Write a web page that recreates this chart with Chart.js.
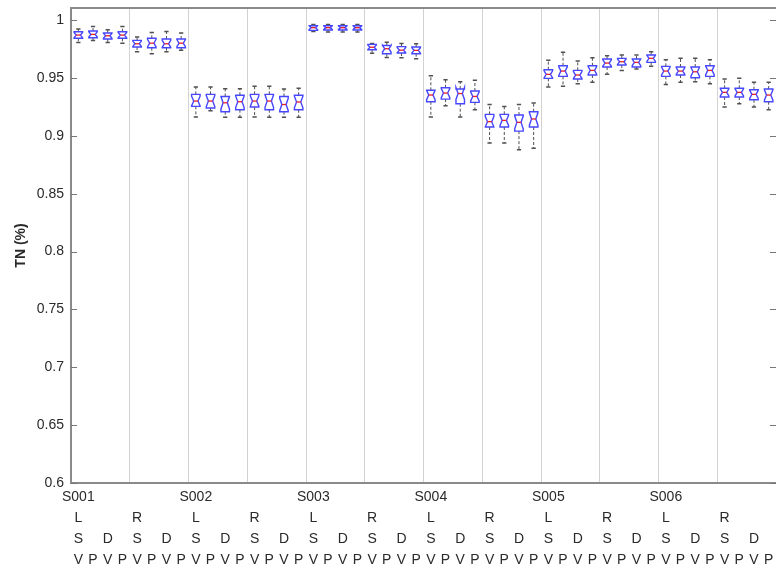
<!DOCTYPE html>
<html>
<head>
<meta charset="utf-8">
<title>TN (%) boxplot</title>
<script src="https://cdn.jsdelivr.net/npm/chart.js@4.4.1/dist/chart.umd.min.js"></script>
<style>
  html, body { margin: 0; padding: 0; background: #fff; }
  #wrap { width: 776px; height: 572px; }
</style>
</head>
<body>
<div id="wrap"><canvas id="c" width="776" height="572"></canvas></div>
<script>
// Grouping factors (subject / side / set / mode)
const subjects = ['S001', 'S002', 'S003', 'S004', 'S005', 'S006'];
const sides = ['L', 'R'];
const sets = ['S', 'D'];
const modes = ['V', 'P'];

// Box statistics, one entry per box (subject x side x set x mode = 48 boxes)
const whiskerHigh = [
  0.9922, 0.9945, 0.9917, 0.9945,  0.9853, 0.9893, 0.9900, 0.9888,
  0.9421, 0.9421, 0.9407, 0.9407,  0.9427, 0.9427, 0.9404, 0.9410,
  0.9962, 0.9962, 0.9962, 0.9962,  0.9797, 0.9808, 0.9798, 0.9795,
  0.9519, 0.9484, 0.9467, 0.9479,  0.9271, 0.9254, 0.9271, 0.9283,
  0.9652, 0.9721, 0.9646, 0.9674,  0.9692, 0.9698, 0.9698, 0.9726,
  0.9657, 0.9669, 0.9669, 0.9657,  0.9490, 0.9496, 0.9462, 0.9462
];
const q3 = [
  0.9899, 0.9905, 0.9888, 0.9899,  0.9824, 0.9842, 0.9836, 0.9836,
  0.9358, 0.9358, 0.9340, 0.9350,  0.9358, 0.9358, 0.9340, 0.9350,
  0.9951, 0.9951, 0.9951, 0.9951,  0.9790, 0.9780, 0.9770, 0.9767,
  0.9393, 0.9415, 0.9404, 0.9387,  0.9185, 0.9185, 0.9179, 0.9208,
  0.9571, 0.9605, 0.9565, 0.9605,  0.9663, 0.9669, 0.9663, 0.9698,
  0.9600, 0.9594, 0.9594, 0.9605,  0.9410, 0.9410, 0.9398, 0.9404
];
const median = [
  0.9870, 0.9876, 0.9864, 0.9870,  0.9795, 0.9800, 0.9795, 0.9800,
  0.9300, 0.9300, 0.9285, 0.9294,  0.9300, 0.9300, 0.9270, 0.9292,
  0.9934, 0.9934, 0.9934, 0.9934,  0.9765, 0.9752, 0.9740, 0.9738,
  0.9352, 0.9369, 0.9365, 0.9340,  0.9122, 0.9133, 0.9116, 0.9145,
  0.9531, 0.9559, 0.9525, 0.9565,  0.9628, 0.9640, 0.9634, 0.9669,
  0.9559, 0.9559, 0.9553, 0.9565,  0.9375, 0.9375, 0.9358, 0.9352
];
const q1 = [
  0.9842, 0.9847, 0.9836, 0.9842,  0.9767, 0.9761, 0.9761, 0.9761,
  0.9254, 0.9240, 0.9208, 0.9225,  0.9248, 0.9225, 0.9208, 0.9225,
  0.9911, 0.9914, 0.9914, 0.9914,  0.9743, 0.9709, 0.9715, 0.9709,
  0.9294, 0.9317, 0.9277, 0.9289,  0.9076, 0.9076, 0.9040, 0.9076,
  0.9496, 0.9513, 0.9490, 0.9525,  0.9594, 0.9611, 0.9594, 0.9634,
  0.9513, 0.9525, 0.9502, 0.9513,  0.9335, 0.9335, 0.9311, 0.9294
];
const whiskerLow = [
  0.9807, 0.9824, 0.9807, 0.9800,  0.9726, 0.9709, 0.9726, 0.9738,
  0.9162, 0.9216, 0.9160, 0.9160,  0.9162, 0.9160, 0.9160, 0.9160,
  0.9900, 0.9896, 0.9896, 0.9896,  0.9712, 0.9676, 0.9675, 0.9666,
  0.9162, 0.9260, 0.9162, 0.9225,  0.8937, 0.8937, 0.8880, 0.8892,
  0.9421, 0.9427, 0.9450, 0.9462,  0.9531, 0.9565, 0.9577, 0.9600,
  0.9444, 0.9462, 0.9467, 0.9450,  0.9248, 0.9277, 0.9248, 0.9225
];
// Runs per box, used for the notch half-height (1.57 * IQR / sqrt(n))
const sampleCount = 15;

// Y tick values
const yTicks = [0.6, 0.65, 0.7, 0.75, 0.8, 0.85, 0.9, 0.95, 1];

// Four-row grouping labels: a factor name is printed only where it changes
const labels = median.map((_, i) => [
  i % 8 === 0 ? subjects[Math.floor(i / 8)] : '',
  i % 4 === 0 ? sides[Math.floor(i / 4) % 2] : '',
  i % 2 === 0 ? sets[Math.floor(i / 2) % 2] : '',
  modes[i % 2]
]);

const FONT = "'Liberation Sans', Arial, Helvetica, sans-serif";
const AXIS_GRAY = '#8a8a8a';

// Draws notched boxes, whiskers, frame and inward tick marks from the scales
const notchedBoxPlugin = {
  id: 'notchedBoxes',
  afterDatasetsDraw(chart) {
    const { ctx, chartArea } = chart;
    const xs = chart.scales.x;
    const ys = chart.scales.y;
    const step = xs.getPixelForValue(1) - xs.getPixelForValue(0);
    const w = step * 0.58;
    const inset = w / 4;
    const capW = w * 0.5;

    ctx.save();
    // top frame line
    ctx.strokeStyle = AXIS_GRAY;
    ctx.lineWidth = 2;
    ctx.beginPath();
    ctx.moveTo(chartArea.left, chartArea.top);
    ctx.lineTo(chartArea.right, chartArea.top);
    ctx.stroke();

    // inward tick marks on left and right edges
    ctx.strokeStyle = '#777';
    ctx.lineWidth = 1;
    yTicks.forEach(v => {
      const py = Math.round(ys.getPixelForValue(v)) + 0.5;
      ctx.beginPath();
      ctx.moveTo(chartArea.left, py);
      ctx.lineTo(chartArea.left + 6, py);
      ctx.moveTo(chartArea.right, py);
      ctx.lineTo(chartArea.right - 6, py);
      ctx.stroke();
    });

    median.forEach((m, i) => {
      const cx = xs.getPixelForValue(i);
      const x0 = cx - w / 2, x1 = cx + w / 2;
      const half = 1.57 * (q3[i] - q1[i]) / Math.sqrt(sampleCount);
      const yHi = ys.getPixelForValue(whiskerHigh[i]);
      const yQ3 = ys.getPixelForValue(q3[i]);
      const yMed = ys.getPixelForValue(m);
      const yQ1 = ys.getPixelForValue(q1[i]);
      const yLo = ys.getPixelForValue(whiskerLow[i]);
      const yNHi = ys.getPixelForValue(m + half);
      const yNLo = ys.getPixelForValue(m - half);

      // whiskers (dashed) and caps
      ctx.strokeStyle = '#505050';
      ctx.lineWidth = 1;
      ctx.setLineDash([3, 2]);
      ctx.beginPath();
      ctx.moveTo(cx, yQ3); ctx.lineTo(cx, yHi);
      ctx.moveTo(cx, yQ1); ctx.lineTo(cx, yLo);
      ctx.stroke();
      ctx.setLineDash([]);
      ctx.lineWidth = 1.5;
      ctx.beginPath();
      ctx.moveTo(cx - capW / 2, yHi); ctx.lineTo(cx + capW / 2, yHi);
      ctx.moveTo(cx - capW / 2, yLo); ctx.lineTo(cx + capW / 2, yLo);
      ctx.stroke();

      // notched box outline
      ctx.strokeStyle = '#4646ff';
      ctx.lineWidth = 1.4;
      ctx.beginPath();
      ctx.moveTo(x0, yQ3);
      ctx.lineTo(x1, yQ3);
      ctx.lineTo(x1, yNHi);
      ctx.lineTo(x1 - inset, yMed);
      ctx.lineTo(x1, yNLo);
      ctx.lineTo(x1, yQ1);
      ctx.lineTo(x0, yQ1);
      ctx.lineTo(x0, yNLo);
      ctx.lineTo(x0 + inset, yMed);
      ctx.lineTo(x0, yNHi);
      ctx.closePath();
      ctx.stroke();

      // median
      ctx.strokeStyle = '#e8202a';
      ctx.lineWidth = 1.3;
      ctx.beginPath();
      ctx.moveTo(x0 + inset, yMed);
      ctx.lineTo(x1 - inset, yMed);
      ctx.stroke();
    });
    ctx.restore();
  }
};

new Chart(document.getElementById('c'), {
  type: 'bar',
  data: {
    labels: labels,
    datasets: [{
      label: 'TN',
      data: q1.map((v, i) => [v, q3[i]]),
      backgroundColor: 'rgba(0,0,0,0)',
      borderWidth: 0
    }]
  },
  options: {
    responsive: false,
    animation: false,
    events: [],
    layout: { padding: { top: 8, left: 0, right: 0, bottom: 0 } },
    plugins: { legend: { display: false }, tooltip: { enabled: false } },
    scales: {
      x: {
        type: 'category',
        offset: true,
        grid: {
          offset: true,
          drawTicks: false,
          lineWidth: 1,
          color: (c) => (c.index > 0 && c.index < 48 && c.index % 4 === 0) ? '#d2d2d2' : 'rgba(0,0,0,0)'
        },
        border: { display: true, color: AXIS_GRAY, width: 2 },
        ticks: {
          autoSkip: false,
          maxRotation: 0,
          minRotation: 0,
          padding: 4,
          color: '#2a2a2a',
          font: { family: FONT, size: 14, lineHeight: 1.5 }
        },
        afterFit(scale) {
          scale.height = 89;
          scale.paddingLeft = 0;
          scale.paddingRight = 0;
        }
      },
      y: {
        min: 0.6,
        max: 1.0104,
        grid: { display: false, drawTicks: false },
        border: { display: true, color: AXIS_GRAY, width: 2 },
        afterBuildTicks(scale) {
          scale.ticks = yTicks.map(v => ({ value: v }));
        },
        ticks: {
          padding: 7,
          color: '#2a2a2a',
          font: { family: FONT, size: 14 },
          callback: (v) => String(+Number(v).toFixed(2))
        },
        title: {
          display: true,
          text: 'TN (%)',
          color: '#2a2a2a',
          font: { family: FONT, size: 14, weight: 'bold', lineHeight: 1.2 },
          padding: { top: 13, bottom: 0 }
        },
        afterFit(scale) {
          scale.width = 71;
          scale.paddingTop = 0;
          scale.paddingBottom = 0;
        }
      }
    }
  },
  plugins: [notchedBoxPlugin]
});
</script>
</body>
</html>
